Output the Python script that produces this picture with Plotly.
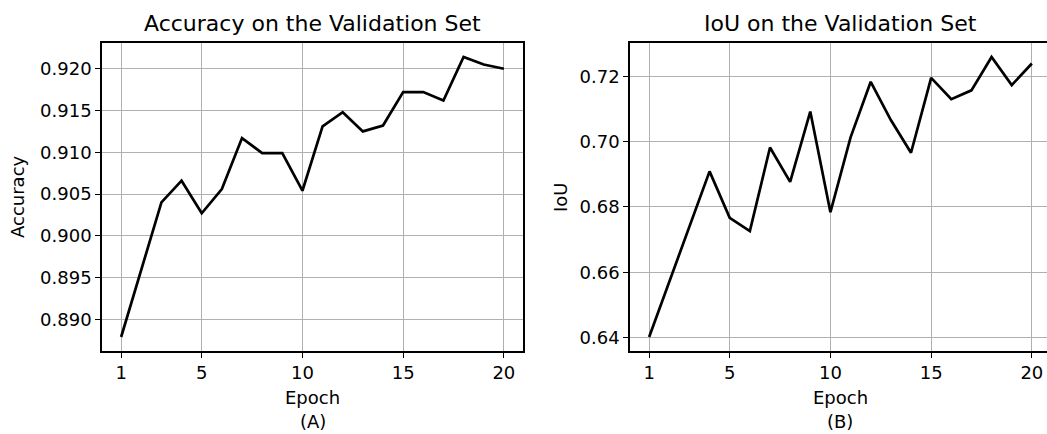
import plotly.graph_objects as go

epochs = list(range(1, 21))
accuracy = [0.8879, 0.8960, 0.9040, 0.9066, 0.9027, 0.9056, 0.9117, 0.9099, 0.9099, 0.9054,
            0.9131, 0.9148, 0.9125, 0.9132, 0.9172, 0.9172, 0.9162, 0.9214, 0.9205, 0.9200]
iou = [0.6402, 0.6571, 0.6740, 0.6909, 0.6767, 0.6726, 0.6982, 0.6877, 0.7092, 0.6784,
       0.7013, 0.7183, 0.7066, 0.6966, 0.7195, 0.7130, 0.7157, 0.7259, 0.7173, 0.7239]
x_ticks = [1, 5, 10, 15, 20]
acc_ticks = [0.890, 0.895, 0.900, 0.905, 0.910, 0.915, 0.920]
iou_ticks = [0.64, 0.66, 0.68, 0.70, 0.72]

W, H = 1047, 434
FONT = "DejaVu Sans"
TOP, BOT = 43, 351


def auto_range(vals):
    lo, hi = min(vals), max(vals)
    m = 0.05 * (hi - lo)
    return [lo - m, hi + m]


fig = go.Figure()
fig.add_trace(go.Scatter(x=epochs, y=accuracy, mode="lines",
                         line=dict(color="black", width=2.7), xaxis="x", yaxis="y",
                         showlegend=False))
fig.add_trace(go.Scatter(x=epochs, y=iou, mode="lines",
                         line=dict(color="black", width=2.7), xaxis="x2", yaxis="y2",
                         showlegend=False))

axis_common = dict(showgrid=True, gridcolor="#b0b0b0", gridwidth=1.3,
                   ticks="outside", ticklen=5, tickwidth=1.3, tickcolor="black",
                   showline=True, linecolor="black", linewidth=1.5,
                   zeroline=False, tickfont=dict(family=FONT, size=18, color="black"))

lx0, lx1 = 102 / W, 523 / W
rx0, rx1 = 630 / W, 1.0
px_per_epoch = (523 - 102) / 20.9
r_end = 0.05 + (W - 630) / px_per_epoch

fig.update_layout(
    width=W, height=H,
    margin=dict(l=0, r=0, t=TOP, b=H - BOT),
    paper_bgcolor="white", plot_bgcolor="white",
    xaxis=dict(domain=[lx0, lx1], range=[0.05, 20.95], tickvals=x_ticks,
               mirror=True, anchor="y", **axis_common),
    yaxis=dict(domain=[0, 1], range=auto_range(accuracy), tickvals=acc_ticks,
               tickformat=".3f", mirror=True, anchor="x", **axis_common),
    xaxis2=dict(domain=[rx0, rx1], range=[0.05, r_end], tickvals=x_ticks,
                mirror=True, anchor="y2", **axis_common),
    yaxis2=dict(domain=[0, 1], range=auto_range(iou), tickvals=iou_ticks,
                tickformat=".2f", mirror=False, anchor="x2", **axis_common),
)

ph = BOT - TOP


def py(pix):
    return (BOT - pix) / ph


ann = [
    dict(text="Accuracy on the Validation Set", x=(102 + 523) / 2 / W, y=py(24), size=22),
    dict(text="IoU on the Validation Set", x=(630 + 1050) / 2 / W, y=py(24), size=22),
    dict(text="Epoch", x=(102 + 523) / 2 / W, y=py(397), size=18),
    dict(text="(A)", x=(102 + 523) / 2 / W, y=py(421), size=18),
    dict(text="Epoch", x=(630 + 1050) / 2 / W, y=py(397), size=18),
    dict(text="(B)", x=(630 + 1050) / 2 / W, y=py(421), size=18),
]
for a in ann:
    fig.add_annotation(text=a["text"], x=a["x"], y=a["y"], xref="paper", yref="paper",
                       xanchor="center", yanchor="middle", showarrow=False, borderpad=0,
                       font=dict(family=FONT, size=a["size"], color="black"))

fig.add_annotation(text="Accuracy", x=17 / W, y=py(197), xref="paper", yref="paper",
                   xanchor="center", yanchor="middle", showarrow=False, textangle=-90,
                   font=dict(family=FONT, size=18, color="black"))
fig.add_annotation(text="IoU", x=560 / W, y=py(197), xref="paper", yref="paper",
                   xanchor="center", yanchor="middle", showarrow=False, textangle=-90,
                   font=dict(family=FONT, size=18, color="black"))

fig.write_html("out.html")
